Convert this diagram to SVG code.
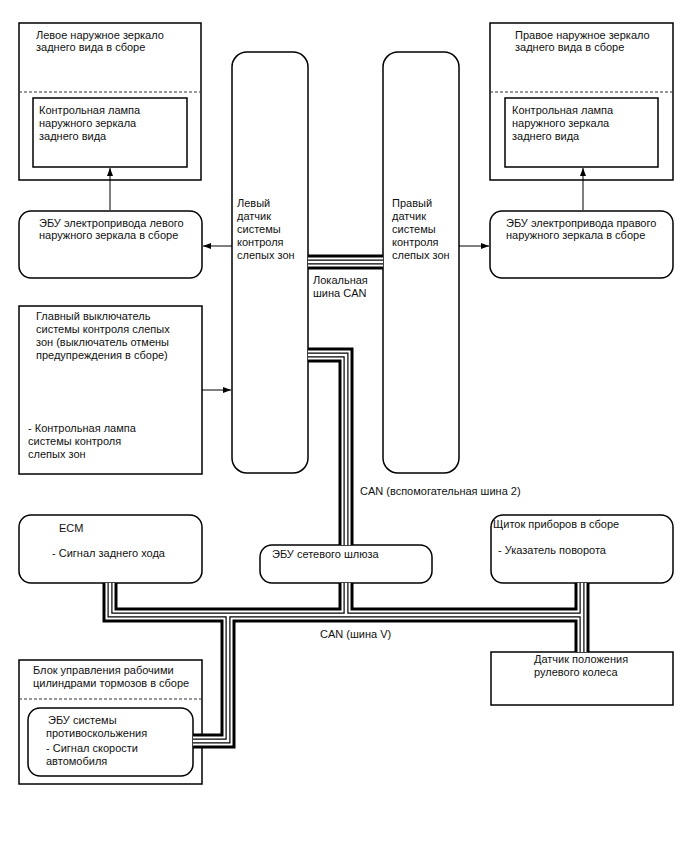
<svg xmlns="http://www.w3.org/2000/svg" width="688" height="852" viewBox="0 0 688 852">
<style>
text{font-family:"Liberation Sans",Arial,sans-serif;font-size:11px;fill:#111}
.box{fill:#fff;stroke:#000;stroke-width:1.5}
.dash{stroke:#333;stroke-width:1;stroke-dasharray:3 2}
.arr{stroke:#000;stroke-width:1;fill:none;marker-end:url(#ah)}
.bus{fill:none;stroke-linejoin:miter;stroke-linecap:butt}
.l1{stroke:#000;stroke-width:15}
.l2{stroke:#fff;stroke-width:9}
.l3{stroke:#000;stroke-width:5}
.l4{stroke:#fff;stroke-width:2.6}
</style>
<defs>
<marker id="ah" markerUnits="userSpaceOnUse" markerWidth="9" markerHeight="7" refX="8" refY="3.5" orient="auto">
<path d="M0,0.5 L8,3.5 L0,6.5 z" fill="#000"/>
</marker>
<g id="busPaths">
<path d="M308,262 H383"/>
<path d="M308,355 H346 V545"/>
<path d="M110,583 V615 H582"/>
<path d="M582,583 V652"/>
<path d="M346,583 V615"/>
<path d="M228,615 V741 H193"/>
</g>
</defs>
<rect width="688" height="852" fill="#fff"/>

<g id="left-mirror">
<rect class="box" x="19" y="23" width="182" height="157"/>
<line class="dash" x1="19" y1="92" x2="201" y2="92"/>
<text x="36" y="39">Левое наружное зеркало</text>
<text x="36" y="51">заднего вида в сборе</text>
</g>
<g id="left-lamp">
<rect class="box" x="33" y="98" width="154" height="69"/>
<text x="39" y="114">Контрольная лампа</text>
<text x="39" y="127">наружного зеркала</text>
<text x="39" y="140">заднего вида</text>
</g>
<g id="left-ecu">
<rect class="box" x="19" y="211" width="183" height="67" rx="12"/>
<text x="39" y="227">ЭБУ электропривода левого</text>
<text x="39" y="239">наружного зеркала в сборе</text>
</g>
<g id="left-sensor">
<rect class="box" x="232" y="52" width="76" height="421" rx="15"/>
<text x="237" y="207">Левый</text>
<text x="237" y="220">датчик</text>
<text x="237" y="233">системы</text>
<text x="237" y="246">контроля</text>
<text x="237" y="259">слепых зон</text>
</g>
<g id="right-sensor">
<rect class="box" x="383" y="52" width="76" height="421" rx="15"/>
<text x="392" y="207">Правый</text>
<text x="392" y="220">датчик</text>
<text x="392" y="233">системы</text>
<text x="392" y="246">контроля</text>
<text x="392" y="259">слепых зон</text>
</g>
<g id="right-mirror">
<rect class="box" x="490" y="23" width="183" height="157"/>
<line class="dash" x1="490" y1="92" x2="673" y2="92"/>
<text x="515" y="39">Правое наружное зеркало</text>
<text x="515" y="51">заднего вида в сборе</text>
</g>
<g id="right-lamp">
<rect class="box" x="505" y="98" width="153" height="69"/>
<text x="512" y="114">Контрольная лампа</text>
<text x="512" y="127">наружного зеркала</text>
<text x="512" y="140">заднего вида</text>
</g>
<g id="right-ecu">
<rect class="box" x="490" y="211" width="183" height="67" rx="12"/>
<text x="506" y="227">ЭБУ электропривода правого</text>
<text x="506" y="239">наружного зеркала в сборе</text>
</g>
<g id="main-switch">
<rect class="box" x="19" y="306" width="183" height="168"/>
<text x="36" y="320">Главный выключатель</text>
<text x="36" y="333">системы контроля слепых</text>
<text x="36" y="346">зон (выключатель отмены</text>
<text x="36" y="359">предупреждения в сборе)</text>
<text x="28" y="432">- Контрольная лампа</text>
<text x="28" y="445">системы контроля</text>
<text x="28" y="458">слепых зон</text>
</g>
<g id="ecm">
<rect class="box" x="19" y="515" width="183" height="68" rx="12"/>
<text x="59" y="532">ECM</text>
<text x="52" y="557">- Сигнал заднего хода</text>
</g>
<g id="gateway">
<rect class="box" x="260" y="545" width="172" height="38" rx="12"/>
<text x="272" y="558">ЭБУ сетевого шлюза</text>
</g>
<g id="cluster">
<rect class="box" x="491" y="515" width="182" height="68" rx="12"/>
<text x="493" y="528">Щиток приборов в сборе</text>
<text x="498" y="554">- Указатель поворота</text>
</g>
<g id="steering-sensor">
<rect class="box" x="491" y="652" width="182" height="53"/>
<text x="534" y="663">Датчик положения</text>
<text x="534" y="676">рулевого колеса</text>
</g>
<g id="brake-block">
<rect class="box" x="19" y="660" width="183" height="124"/>
<line class="dash" x1="19" y1="699" x2="202" y2="699"/>
<text x="33" y="674">Блок управления рабочими</text>
<text x="33" y="687">цилиндрами тормозов в сборе</text>
</g>
<g id="abs-ecu">
<rect class="box" x="28" y="708" width="165" height="68" rx="12"/>
<text x="48" y="724">ЭБУ системы</text>
<text x="46" y="737">противоскольжения</text>
<text x="46" y="752">- Сигнал скорости</text>
<text x="46" y="765">автомобиля</text>
</g>

<g id="connectors">
<use class="bus l1" href="#busPaths"/>
<use class="bus l2" href="#busPaths"/>
<use class="bus l3" href="#busPaths"/>
<use class="bus l4" href="#busPaths"/>
<line class="arr" x1="110" y1="210" x2="110" y2="168"/>
<line class="arr" x1="232" y1="246" x2="203" y2="246"/>
<line class="arr" x1="459" y1="246" x2="489" y2="246"/>
<line class="arr" x1="583" y1="210" x2="583" y2="168"/>
<line class="arr" x1="202" y1="390" x2="231" y2="390"/>
<text x="313" y="284">Локальная</text>
<text x="313" y="297">шина CAN</text>
<text x="360" y="495">CAN (вспомогательная шина 2)</text>
<text x="320" y="638">CAN (шина V)</text>
</g>
</svg>
